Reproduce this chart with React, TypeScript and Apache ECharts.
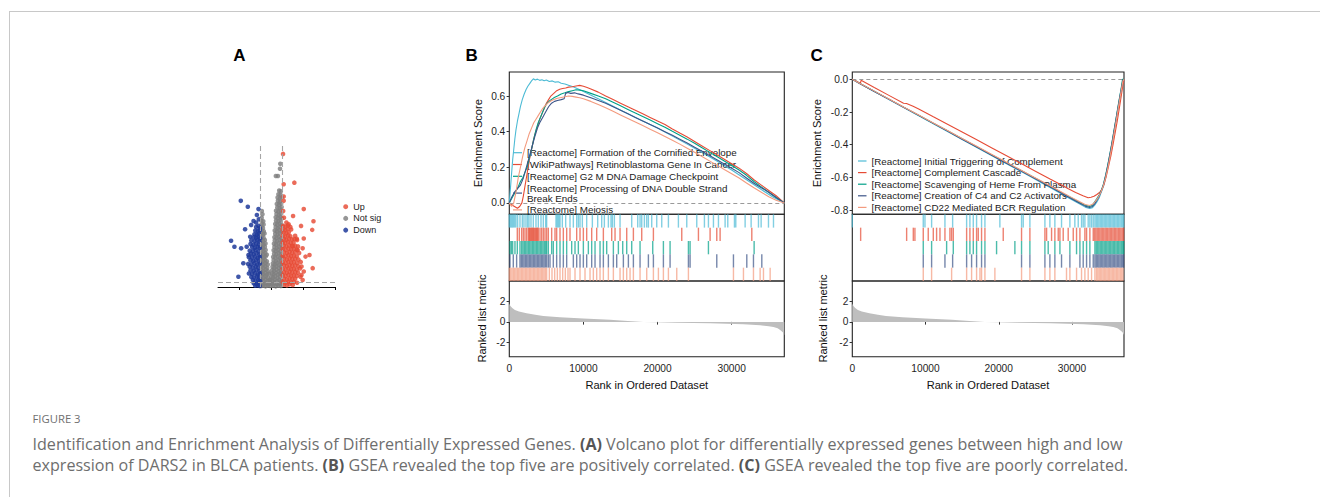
import React, { useEffect, useRef } from "react";
import * as echarts from "echarts";

const FONT = "'Liberation Sans', Arial, Helvetica, sans-serif";
const CAPTION_FONT = "'Open Sans', Lato, sans-serif";
const NPG = ["#4DBBD5", "#E64B35", "#00A087", "#3C5488", "#F39B7F"];

// ---------------- Panel A: volcano ----------------
const VOLCANO_X_TICKS = [-2, 0, 2, 4];
const LOGFC_CUTOFF = 0.68;
const P_CUTOFF = 1.3;
const volcanoDown: number[][] = [
  [-0.95, 18.2], [-0.8, 18.5], [-0.72, 17.9], [-1.0, 17.1], [-0.85, 16.9], [-0.72, 17.2],
  [-1.05, 16.0], [-0.9, 15.8], [-0.78, 16.2], [-1.1, 15.1], [-0.95, 14.9], [-0.8, 15.2], [-0.7, 14.8],
  [-1.25, 14.1], [-1.05, 13.9], [-0.88, 14.2], [-0.74, 13.8], [-1.3, 13.0], [-1.12, 12.8], [-0.95, 13.1], [-0.78, 12.9],
  [-1.2, 12.1], [-1.02, 11.9], [-0.85, 12.2], [-0.72, 11.8], [-1.35, 11.0], [-1.15, 10.9], [-0.98, 11.2], [-0.8, 10.8],
  [-1.28, 10.1], [-1.1, 9.9], [-0.92, 10.2], [-0.75, 9.8], [-1.4, 9.0], [-1.2, 8.9], [-1.02, 9.2], [-0.85, 8.8], [-0.72, 9.1],
  [-1.3, 8.1], [-1.12, 7.9], [-0.95, 8.2], [-0.78, 7.8], [-1.45, 7.0], [-1.25, 6.9], [-1.05, 7.2], [-0.88, 6.8], [-0.72, 7.1],
  [-1.35, 6.1], [-1.15, 5.9], [-0.98, 6.2], [-0.8, 5.8], [-1.3, 5.0], [-1.1, 4.9], [-0.92, 5.2], [-0.75, 4.8],
  [-1.4, 4.1], [-1.2, 3.9], [-1.02, 4.2], [-0.85, 3.8], [-0.72, 4.1], [-1.25, 3.0], [-1.08, 2.9], [-0.9, 3.2], [-0.76, 2.8],
  [-1.15, 2.1], [-0.98, 1.9], [-0.82, 2.2], [-0.7, 1.8], [-1.1, 1.1], [-0.92, 0.9], [-0.78, 1.2], [-1.0, 0.4], [-0.85, 0.5], [-0.72, 0.3],
  [-1.91, 26.1], [-1.47, 24.3], [-0.8, 23.6], [-0.9, 21.8], [-1.11, 20.0], [-1.64, 17.5], [-2.52, 14.0], [-2.31, 12.2],
  [-1.89, 11.7], [-1.54, 12.2], [-1.75, 7.2], [-2.06, 3.1], [-1.32, 15.2], [-1.43, 9.7], [-1.26, 18.8], [-0.95, 19.5], [-0.78, 20.5],
];
const volcanoUp: number[][] = [
  [0.75, 18.5], [0.9, 18.3], [1.05, 18.6], [1.2, 18.2], [0.72, 17.5], [0.88, 17.3], [1.02, 17.6], [1.25, 17.4],
  [0.78, 16.5], [0.95, 16.3], [1.1, 16.6], [0.72, 15.5], [0.88, 15.3], [1.05, 15.6], [1.2, 15.4], [1.5, 15.5],
  [0.8, 14.5], [0.95, 14.3], [1.12, 14.6], [1.3, 14.4], [1.6, 14.6], [0.72, 13.5], [0.88, 13.3], [1.05, 13.6], [1.22, 13.4], [1.4, 13.5],
  [0.78, 12.5], [0.95, 12.3], [1.12, 12.6], [1.3, 12.4], [1.5, 12.5], [1.68, 12.3], [0.72, 11.5], [0.9, 11.3], [1.08, 11.6], [1.25, 11.4], [1.42, 11.5], [1.6, 11.3],
  [0.8, 10.5], [0.98, 10.3], [1.15, 10.6], [1.32, 10.4], [1.5, 10.5], [1.75, 10.3], [0.72, 9.5], [0.9, 9.3], [1.08, 9.6], [1.25, 9.4], [1.42, 9.5], [1.6, 9.3],
  [0.8, 8.5], [0.98, 8.3], [1.15, 8.6], [1.32, 8.4], [1.5, 8.5], [1.7, 8.3], [0.72, 7.5], [0.9, 7.3], [1.08, 7.6], [1.25, 7.4], [1.42, 7.5], [1.62, 7.3], [1.85, 7.6],
  [0.8, 6.5], [0.98, 6.3], [1.15, 6.6], [1.32, 6.4], [1.5, 6.5], [1.7, 6.3], [0.72, 5.5], [0.9, 5.3], [1.08, 5.6], [1.25, 5.4], [1.42, 5.5], [1.6, 5.3], [1.8, 5.6],
  [0.8, 4.5], [0.98, 4.3], [1.15, 4.6], [1.32, 4.4], [1.5, 4.5], [1.68, 4.3], [0.72, 3.5], [0.9, 3.3], [1.08, 3.6], [1.25, 3.4], [1.42, 3.5], [1.6, 3.3], [1.9, 3.6],
  [0.8, 2.5], [0.98, 2.3], [1.15, 2.6], [1.32, 2.4], [1.5, 2.5], [0.72, 1.5], [0.9, 1.3], [1.08, 1.6], [1.25, 1.4], [1.42, 1.5], [1.62, 1.3],
  [0.8, 0.7], [0.98, 0.5], [1.15, 0.8], [1.35, 0.6],
  [0.74, 40.3], [0.78, 31.1], [1.45, 31.6], [0.78, 27.4], [0.78, 26.1], [2.04, 23.6], [1.37, 21.5], [2.65, 19.9], [1.87, 18.5],
  [2.57, 17.3], [1.09, 19.0], [0.95, 19.5], [2.04, 14.7], [1.62, 14.2], [1.45, 14.5], [1.35, 12.4], [1.97, 11.7], [1.66, 11.2],
  [2.4, 9.7], [2.15, 9.2], [2.6, 5.7], [2.04, 4.7], [1.9, 6.2], [1.83, 3.1], [1.97, 2.1], [0.75, 23.0], [0.8, 21.0],
];
const volcanoNotSig: number[][] = [
  [0.57, 37.3], [0.55, 35.8], [0.42, 33.6], [0.29, 33.6], [0.5, 29.2], [0.6, 29.0], [0.45, 28.1], [0.58, 27.9],
  [0.4, 27.1], [0.55, 26.9], [0.66, 27.2], [0.42, 26.1], [0.55, 25.9], [0.35, 25.1], [0.48, 24.9], [0.62, 25.2],
  [0.38, 24.1], [0.52, 23.9], [0.65, 24.2], [0.3, 23.1], [0.45, 22.9], [0.58, 23.2], [0.33, 22.1], [0.48, 21.9], [0.62, 22.2],
  [0.28, 21.1], [0.42, 20.9], [0.56, 21.2], [0.67, 20.8], [0.3, 20.1], [0.45, 19.9], [0.6, 20.2],
  [0.25, 19.1], [0.38, 18.9], [0.52, 19.2], [0.65, 18.8], [0.28, 18.1], [0.42, 17.9], [0.56, 18.2],
  [0.22, 17.1], [0.35, 16.9], [0.5, 17.2], [0.64, 16.8], [0.25, 16.1], [0.4, 15.9], [0.55, 16.2],
  [0.2, 15.1], [0.33, 14.9], [0.47, 15.2], [0.62, 14.8], [0.22, 14.1], [0.37, 13.9], [0.52, 14.2], [0.66, 13.8],
  [0.17, 13.1], [0.3, 12.9], [0.45, 13.2], [0.6, 12.8], [0.2, 12.1], [0.35, 11.9], [0.5, 12.2], [0.64, 11.8],
  [0.15, 11.1], [0.28, 10.9], [0.42, 11.2], [0.57, 10.8], [0.18, 10.1], [0.32, 9.9], [0.47, 10.2], [0.62, 9.8],
  [0.12, 9.1], [0.25, 8.9], [0.4, 9.2], [0.55, 8.8], [0.67, 9.1], [0.15, 8.1], [0.3, 7.9], [0.45, 8.2], [0.6, 7.8],
  [0.1, 7.1], [0.22, 6.9], [0.36, 7.2], [0.5, 6.8], [0.64, 7.1], [0.08, 6.1], [0.2, 5.9], [0.33, 6.2], [0.48, 5.8], [0.62, 6.1],
  [0.05, 5.1], [0.18, 4.9], [0.32, 5.2], [0.46, 4.8], [0.6, 5.1], [0.03, 4.1], [0.15, 3.9], [0.28, 4.2], [0.42, 3.8], [0.56, 4.1], [0.67, 3.9],
  [0.0, 3.1], [0.12, 2.9], [0.25, 3.2], [0.4, 2.8], [0.55, 3.1], [-0.05, 2.1], [0.08, 1.9], [0.22, 2.2], [0.36, 1.8], [0.5, 2.1], [0.64, 1.9],
  [-0.1, 1.1], [0.05, 0.9], [0.2, 1.2], [0.35, 0.8], [0.5, 1.1], [0.65, 0.9], [-0.05, 0.3], [0.1, 0.4], [0.28, 0.2], [0.45, 0.4], [0.6, 0.3],
  [-0.59, 23.0], [-0.55, 22.0], [-0.6, 21.0], [-0.62, 20.1], [-0.5, 19.9], [-0.6, 19.1], [-0.48, 18.9], [-0.63, 18.1], [-0.52, 17.9],
  [-0.6, 17.1], [-0.47, 16.9], [-0.64, 16.1], [-0.52, 15.9], [-0.42, 16.2], [-0.6, 15.1], [-0.48, 14.9],
  [-0.63, 14.1], [-0.52, 13.9], [-0.4, 14.2], [-0.6, 13.1], [-0.48, 12.9], [-0.36, 13.2], [-0.64, 12.1], [-0.52, 11.9], [-0.4, 12.2],
  [-0.6, 11.1], [-0.48, 10.9], [-0.35, 11.2], [-0.63, 10.1], [-0.5, 9.9], [-0.38, 10.2], [-0.28, 9.8], [-0.6, 9.1], [-0.47, 8.9], [-0.35, 9.2],
  [-0.64, 8.1], [-0.52, 7.9], [-0.4, 8.2], [-0.28, 7.8], [-0.6, 7.1], [-0.48, 6.9], [-0.35, 7.2], [-0.22, 6.8],
  [-0.63, 6.1], [-0.5, 5.9], [-0.38, 6.2], [-0.25, 5.8], [-0.6, 5.1], [-0.47, 4.9], [-0.33, 5.2], [-0.2, 4.8],
  [-0.64, 4.1], [-0.52, 3.9], [-0.4, 4.2], [-0.27, 3.8], [-0.15, 4.1], [-0.6, 3.1], [-0.47, 2.9], [-0.34, 3.2], [-0.2, 2.8],
  [-0.63, 2.1], [-0.5, 1.9], [-0.37, 2.2], [-0.24, 1.8], [-0.12, 2.1], [-0.6, 1.1], [-0.47, 0.9], [-0.33, 1.2], [-0.2, 0.8],
  [-0.64, 0.3], [-0.5, 0.4], [-0.36, 0.2], [-0.22, 0.4],
];

// ---------------- Panels B & C: GSEA ----------------
const RANK_MAX = 37100;
const RANK_TICKS = [0, 10000, 20000, 30000];
const ES_TICKS_B = [0, 0.2, 0.4, 0.6];
const ES_TICKS_C = [0, -0.2, -0.4, -0.6, -0.8];
const METRIC_TICKS = [-2, 0, 2];

const PATHWAYS_B = [
  "[Reactome] Formation of the Cornified Envelope",
  "[WikiPathways] Retinoblastoma Gene In Cancer",
  "[Reactome] G2 M DNA Damage Checkpoint",
  "[Reactome] Processing of DNA Double Strand\nBreak Ends",
  "[Reactome] Meiosis",
];
const PATHWAYS_C = [
  "[Reactome] Initial Triggering of Complement",
  "[Reactome] Complement Cascade",
  "[Reactome] Scavenging of Heme From Plasma",
  "[Reactome] Creation of C4 and C2 Activators",
  "[Reactome] CD22 Mediated BCR Regulation",
];

const esB_cornified = [[0,0],[150,0.08],[300,0.16],[450,0.24],[600,0.3],[750,0.36],[900,0.41],[1100,0.46],[1300,0.5],[1500,0.54],[1750,0.58],[2000,0.61],[2250,0.635],[2500,0.655],[2750,0.67],[3000,0.685],[3250,0.697],[3500,0.69],[3800,0.695],[4100,0.688],[4400,0.692],[4700,0.686],[5000,0.69],[5400,0.682],[5800,0.685],[6200,0.678],[6600,0.68],[7000,0.672],[7500,0.668],[8000,0.66],[8600,0.652],[9300,0.64],[10000,0.626],[12000,0.585],[14000,0.543],[16000,0.5],[18000,0.46],[20000,0.42],[22000,0.375],[24000,0.33],[26000,0.283],[28000,0.235],[30000,0.185],[32000,0.13],[34000,0.075],[35500,0.035],[36400,0.015],[37100,0]];
const esB_retino = [[0,0],[300,-0.01],[700,-0.02],[1100,-0.03],[1400,-0.02],[1700,0.0],[1900,0.04],[2100,0.09],[2300,0.14],[2500,0.19],[2700,0.24],[2900,0.28],[3100,0.32],[3300,0.36],[3500,0.39],[3800,0.43],[4100,0.47],[4400,0.5],[4700,0.53],[5000,0.56],[5300,0.58],[5600,0.6],[6000,0.615],[6400,0.63],[6800,0.638],[7200,0.642],[7600,0.645],[8000,0.65],[8500,0.652],[9000,0.656],[9500,0.66],[10000,0.655],[10500,0.648],[11000,0.64],[12000,0.622],[13000,0.6],[14000,0.58],[15000,0.56],[16000,0.54],[17000,0.52],[18000,0.5],[19000,0.48],[20000,0.46],[21000,0.44],[22000,0.415],[23000,0.392],[24000,0.37],[25000,0.345],[26000,0.32],[27000,0.295],[28000,0.27],[29000,0.245],[30000,0.22],[31000,0.195],[32000,0.165],[33000,0.13],[34000,0.1],[35000,0.07],[36000,0.04],[37100,0]];
const esB_g2m = [[0,0],[400,0.03],[800,0.06],[1200,0.09],[1500,0.12],[1800,0.14],[2100,0.17],[2400,0.2],[2700,0.25],[3000,0.3],[3300,0.36],[3600,0.41],[3900,0.45],[4200,0.48],[4500,0.51],[4800,0.54],[5100,0.56],[5500,0.575],[6000,0.59],[6500,0.6],[7000,0.612],[7500,0.618],[8000,0.625],[8500,0.63],[9000,0.635],[9500,0.633],[10000,0.63],[11000,0.615],[12000,0.6],[13000,0.585],[14000,0.565],[15000,0.545],[16000,0.525],[17000,0.505],[18000,0.485],[19000,0.465],[20000,0.445],[21000,0.425],[22000,0.402],[23000,0.38],[24000,0.358],[25000,0.335],[26000,0.31],[27000,0.285],[28000,0.26],[29000,0.235],[30000,0.21],[31000,0.185],[32000,0.155],[33000,0.12],[34000,0.09],[35000,0.06],[36000,0.03],[37100,0]];
const esB_dsb = [[0,0],[300,0.03],[700,0.06],[1100,0.08],[1500,0.1],[1900,0.14],[2300,0.2],[2700,0.26],[3100,0.32],[3500,0.38],[3800,0.42],[4100,0.45],[4500,0.48],[4900,0.51],[5300,0.54],[5700,0.56],[6100,0.57],[6500,0.575],[7000,0.58],[7400,0.585],[7600,0.615],[7900,0.62],[8300,0.615],[8800,0.618],[9300,0.612],[10000,0.605],[11000,0.59],[12000,0.575],[13000,0.56],[14000,0.54],[15000,0.52],[16000,0.5],[17000,0.48],[18000,0.46],[19000,0.44],[20000,0.42],[21000,0.4],[22000,0.38],[23000,0.358],[24000,0.336],[25000,0.313],[26000,0.29],[27000,0.266],[28000,0.242],[29000,0.218],[30000,0.194],[31000,0.17],[32000,0.14],[33000,0.11],[34000,0.085],[35000,0.06],[36000,0.03],[37100,0]];
const esB_meiosis = [[0,0],[300,-0.02],[600,0.0],[900,0.06],[1200,0.14],[1500,0.2],[1800,0.26],[2100,0.31],[2400,0.35],[2700,0.39],[3000,0.42],[3300,0.45],[3600,0.47],[3900,0.49],[4200,0.51],[4500,0.53],[4800,0.545],[5200,0.56],[5600,0.572],[6000,0.58],[6500,0.588],[7000,0.592],[7500,0.596],[8000,0.6],[8500,0.598],[9000,0.594],[9500,0.59],[10000,0.585],[11000,0.57],[12000,0.552],[13000,0.534],[14000,0.514],[15000,0.494],[16000,0.474],[17000,0.454],[18000,0.434],[19000,0.414],[20000,0.394],[21000,0.373],[22000,0.352],[23000,0.33],[24000,0.307],[25000,0.284],[26000,0.26],[27000,0.236],[28000,0.212],[29000,0.188],[30000,0.164],[31000,0.14],[32000,0.112],[33000,0.085],[34000,0.06],[35000,0.035],[36000,0.015],[37100,0]];

const esC_initial = [[0,0],[1000,-0.025],[3000,-0.074],[5000,-0.123],[7000,-0.172],[9000,-0.221],[11000,-0.27],[13000,-0.319],[15000,-0.368],[17000,-0.417],[19000,-0.466],[21000,-0.515],[23000,-0.563],[24500,-0.6],[26000,-0.637],[27500,-0.674],[29000,-0.713],[30000,-0.737],[31000,-0.762],[31800,-0.782],[32400,-0.79],[32800,-0.785],[33100,-0.77],[33400,-0.75],[33700,-0.726],[34000,-0.69],[34300,-0.655],[34600,-0.6],[34900,-0.535],[35200,-0.465],[35500,-0.39],[35800,-0.31],[36100,-0.235],[36400,-0.155],[36700,-0.075],[36950,-0.01],[37100,0]];
const esC_cascade = [[0,0],[600,-0.012],[1100,-0.025],[1200,-0.006],[3000,-0.05],[5000,-0.098],[7000,-0.146],[7400,-0.148],[8300,-0.165],[9000,-0.18],[11000,-0.228],[13000,-0.275],[15000,-0.322],[17000,-0.37],[19000,-0.418],[21000,-0.466],[23000,-0.514],[25000,-0.562],[27000,-0.61],[28500,-0.645],[29500,-0.67],[30500,-0.692],[31500,-0.713],[32200,-0.725],[32600,-0.722],[33000,-0.716],[33400,-0.705],[33800,-0.69],[34100,-0.672],[34400,-0.64],[34700,-0.59],[35000,-0.53],[35300,-0.47],[35600,-0.4],[35900,-0.325],[36200,-0.25],[36500,-0.165],[36800,-0.08],[37000,-0.02],[37100,0]];
const esC_heme = [[0,0],[1000,-0.024],[3000,-0.073],[5000,-0.121],[7000,-0.17],[9000,-0.218],[11000,-0.267],[13000,-0.315],[15000,-0.364],[17000,-0.412],[19000,-0.461],[21000,-0.509],[23000,-0.557],[24500,-0.593],[26000,-0.63],[27500,-0.666],[29000,-0.704],[30000,-0.727],[31000,-0.752],[31800,-0.77],[32400,-0.778],[32800,-0.77],[33100,-0.75],[33400,-0.73],[33700,-0.708],[34000,-0.68],[34300,-0.64],[34600,-0.585],[34900,-0.52],[35200,-0.45],[35500,-0.375],[35800,-0.295],[36100,-0.215],[36400,-0.135],[36700,-0.06],[36900,0.0],[37100,0]];
const esC_c4c2 = [[0,0],[1000,-0.025],[3000,-0.074],[5000,-0.122],[7000,-0.171],[9000,-0.219],[11000,-0.268],[13000,-0.317],[15000,-0.366],[17000,-0.414],[19000,-0.463],[21000,-0.512],[23000,-0.56],[24500,-0.597],[26000,-0.633],[27500,-0.67],[29000,-0.708],[30000,-0.732],[31000,-0.757],[31800,-0.776],[32400,-0.784],[32800,-0.778],[33100,-0.762],[33400,-0.74],[33700,-0.715],[34000,-0.685],[34300,-0.645],[34600,-0.59],[34900,-0.525],[35200,-0.455],[35500,-0.38],[35800,-0.3],[36100,-0.22],[36400,-0.14],[36700,-0.065],[36950,-0.005],[37100,0]];
const esC_cd22 = [[0,0],[1000,-0.024],[3000,-0.072],[5000,-0.12],[7000,-0.169],[9000,-0.217],[11000,-0.265],[13000,-0.313],[15000,-0.362],[17000,-0.41],[19000,-0.458],[21000,-0.506],[23000,-0.555],[24500,-0.591],[26000,-0.627],[27500,-0.663],[29000,-0.7],[30000,-0.724],[31000,-0.748],[31800,-0.766],[32400,-0.772],[32800,-0.765],[33100,-0.752],[33400,-0.735],[33700,-0.712],[34000,-0.685],[34300,-0.648],[34600,-0.6],[34900,-0.54],[35200,-0.47],[35500,-0.395],[35800,-0.315],[36100,-0.235],[36400,-0.155],[36700,-0.075],[36950,-0.01],[37100,0]];

const rugB_cornified = [0,150,300,450,600,750,900,1125,1440,1755,1980,2250,2475,2655,2925,3240,3600,3915,4275,4590,4905,5040,6300,6435,6570,6705,6840,7155,7605,8190,8640,9090,9315,9540,9855,10440,11205,11925,12465,12825,13365,13725,13905,14175,14940,16515,17325,17640,17865,18225,18540,18765,19215,19890,20565,21465,22815,23940,25290,26325,26865,27540,28215,29115,29475,30375,30555,31815,32625,33615,33975,34965,35640];
const rugB_retino = [1080,1350,1665,1890,2115,2340,2565,2700,2790,2900,3015,3130,3240,3350,3465,3580,3690,3800,3915,4140,4365,4590,4815,5040,5265,5715,6165,6390,6840,7290,7740,8190,9090,9540,9990,10440,11115,11790,12690,13815,14265,14940,15840,16740,17865,19440,23265,25515,27090,27990,28440,32715];
const rugB_g2m = [90,270,450,765,1080,1440,1665,1845,2025,2205,2385,2565,2745,2925,3105,3285,3465,3645,3825,4005,4185,4365,4545,4725,4905,5040,5265,5715,5940,6390,6840,7290,7740,8415,8865,9315,9990,10665,11115,11565,12240,12690,13140,14040,14715,15300,15840,16515,17640,19350,20790,21690,24165,24390,26865,33030];
const rugB_dsb = [90,540,990,1440,1620,1800,1980,2160,2340,2520,2700,2880,3060,3240,3420,3600,3780,3960,4140,4320,4500,4680,4860,5040,5265,5490,5940,6390,6840,7290,7740,8640,9090,9540,9990,10440,11115,11565,12240,12690,13365,14040,14490,15390,16065,16740,17640,18765,19440,20790,21690,24165,24390,27990,30240,32040,32940,34065];
const rugB_meiosis = [0,180,360,540,720,900,1080,1260,1440,1620,1800,1980,2160,2340,2520,2700,2880,3060,3240,3420,3600,3780,3960,4140,4320,4500,4680,4860,5040,5400,5760,6120,6480,6840,7200,7560,7920,8190,8865,9540,10215,10890,11340,11790,12240,12690,13365,14040,14940,15390,15840,16290,16740,17640,18540,19440,20115,20790,21465,22590,24165,30240,31590,32940,33840,34290,35190];

const rugC_initial = [0,9690,9920,10830,12650,13700,15610,16060,16520,16970,17650,18110,20150,23110,23340,24250,26300,26980,27660,28570,29710,30390,30850,31300,31530,31760,32210,32440,32670,32900,33130,33310,33490,33670,33850,34030,34210,34390,34570,34750,34930,35110,35290,35470,35650,35830,36010,36190,36370,36550,36730,36910,37050];
const rugC_cascade = [1140,7420,8330,8550,9690,10370,11060,11510,11970,12650,13330,13560,13790,15610,16060,16520,16970,17200,17650,18110,20610,23110,24250,26300,26530,27210,27660,28120,28350,28800,29480,30170,30620,31080,31760,31990,32440,32900,33080,33260,33440,33620,33800,33980,34160,34340,34520,34700,34880,35060,35240,35420,35600,35780,35960,36140,36320,36500,36680,36860,37040];
const rugC_heme = [9690,10830,12880,13790,15610,16060,16520,16970,17650,18110,19700,22200,23110,24250,26300,26750,27660,28350,29710,30620,31080,31530,31990,32440,33130,33310,33490,33670,33850,34030,34210,34390,34570,34750,34930,35110,35290,35470,35650,35830,36010,36190,36370,36550,36730,36910,37050];
const rugC_c4c2 = [9690,10830,12650,13700,15610,16290,16970,17650,18110,23110,24250,26300,26980,27660,28570,29710,31080,31530,31990,32440,32900,33130,33310,33490,33670,33850,34030,34210,34390,34570,34750,34930,35110,35290,35470,35650,35830,36010,36190,36370,36550,36730,36910,37050];
const rugC_cd22 = [9690,10830,13560,15610,16290,16970,17430,17650,18110,19470,23110,24250,26300,26980,27660,29250,29710,30620,31300,31760,32210,32670,33130,33350,33530,33710,33890,34070,34250,34430,34610,34790,34970,35150,35330,35510,35690,35870,36050,36230,36410,36590,36770,36950];

const metricRank = [0, 150, 400, 765, 1300, 2340, 3500, 4590, 6840, 9990, 13590, 16000, 18090, 20000, 22590, 27090, 31590, 33840, 35000, 35640, 36200, 36540, 36900, 37100];
const metricValue = [1.8, 1.55, 1.35, 1.17, 1.03, 0.85, 0.7, 0.59, 0.46, 0.33, 0.2, 0.1, 0.0, -0.04, -0.07, -0.13, -0.23, -0.33, -0.42, -0.5, -0.62, -0.78, -1.0, -1.27];

const CAPTION_TITLE = "FIGURE 3";
const CAPTION_1 = "Identification and Enrichment Analysis of Differentially Expressed Genes. {b|(A)} Volcano plot for differentially expressed genes between high and low";
const CAPTION_2 = "expression of DARS2 in BLCA patients. {b|(B)} GSEA revealed the top five are positively correlated. {b|(C)} GSEA revealed the top five are poorly correlated.";

// layout
const B_LEFT = 509.3, B_W = 275;
const C_LEFT = 852.3, C_W = 271.7;
const ES_TOP = 72, ES_H = 142.3, RUG_TOP = 214.3, RUG_H = 66.7, MET_TOP = 281, MET_H = 75.7;

function buildOption() {
  const gridBox = (left: number, top: number, width: number, height: number) => ({
    left, top, width, height, show: true, borderColor: "#222", borderWidth: 1.1, backgroundColor: "transparent", containLabel: false,
  });
  const grids = [
    { left: 218, top: 145, width: 117, height: 142, show: false },
    gridBox(B_LEFT, ES_TOP, B_W, ES_H),
    gridBox(B_LEFT, RUG_TOP, B_W, RUG_H),
    gridBox(B_LEFT, MET_TOP, B_W, MET_H),
    gridBox(C_LEFT, ES_TOP, C_W, ES_H),
    gridBox(C_LEFT, RUG_TOP, C_W, RUG_H),
    gridBox(C_LEFT, MET_TOP, C_W, MET_H),
  ];
  const labelStyle = { fontSize: 10.2, color: "#1e1e1e", fontFamily: FONT, margin: 4 };
  const tickStyle = { length: 2.7, lineStyle: { color: "#333", width: 1 } };
  const hiddenRankX = (gi: number) => ({ type: "value", gridIndex: gi, min: 0, max: RANK_MAX, show: false });
  const metricX = (gi: number) => ({
    type: "value", gridIndex: gi, min: 0, max: RANK_MAX,
    axisLine: { show: false }, splitLine: { show: false },
    axisTick: { show: true, customValues: RANK_TICKS, ...tickStyle },
    axisLabel: { ...labelStyle, customValues: RANK_TICKS, margin: 7, formatter: (v: number) => String(v) },
  });
  const esY = (gi: number, min: number, max: number, ticks: number[]) => ({
    type: "value", gridIndex: gi, min, max,
    axisLine: { show: false }, splitLine: { show: false },
    axisTick: { show: true, customValues: ticks, ...tickStyle },
    axisLabel: { ...labelStyle, customValues: ticks, formatter: (v: number) => v.toFixed(1) },
  });
  const rugY = (gi: number) => ({ type: "value", gridIndex: gi, min: 0, max: 5, inverse: true, show: false });
  const metricY = (gi: number) => ({
    type: "value", gridIndex: gi, min: -3.4, max: 4,
    axisLine: { show: false }, splitLine: { show: false },
    axisTick: { show: true, customValues: METRIC_TICKS, ...tickStyle },
    axisLabel: { ...labelStyle, customValues: METRIC_TICKS, formatter: (v: number) => String(v) },
  });

  const xAxis = [
    {
      type: "value", gridIndex: 0, min: -3.34, max: 4,
      axisLine: { show: true, onZero: false, lineStyle: { color: "#000", width: 1 } },
      axisTick: { show: true, customValues: VOLCANO_X_TICKS, length: 3, lineStyle: { color: "#000" } },
      axisLabel: { show: false }, splitLine: { show: false },
    },
    hiddenRankX(1), hiddenRankX(2), metricX(3), hiddenRankX(4), hiddenRankX(5), metricX(6),
  ];
  const yAxis = [
    { type: "value", gridIndex: 0, min: 0, max: 43, show: false },
    esY(1, -0.064, 0.735, ES_TICKS_B), rugY(2), metricY(3),
    esY(4, -0.826, 0.045, ES_TICKS_C), rugY(5), metricY(6),
  ];

  const dashed = { type: [5, 3], color: "#a6a6a6", width: 1.1 };
  const series: any[] = [];
  series.push({
    type: "scatter", name: "Not sig", xAxisIndex: 0, yAxisIndex: 0, data: volcanoNotSig, symbolSize: 4.6, clip: false,
    itemStyle: { color: "#7f7f7f", opacity: 0.82 }, silent: true, z: 2,
    markLine: {
      silent: true, symbol: ["none", "none"], label: { show: false }, lineStyle: dashed,
      data: [{ xAxis: -LOGFC_CUTOFF }, { xAxis: LOGFC_CUTOFF }, { yAxis: P_CUTOFF }],
    },
  });
  series.push({
    type: "scatter", name: "Down", xAxisIndex: 0, yAxisIndex: 0, data: volcanoDown, symbolSize: 4.6, clip: false,
    itemStyle: { color: "#1E3A9A", opacity: 0.85 }, silent: true, z: 3,
  });
  series.push({
    type: "scatter", name: "Up", xAxisIndex: 0, yAxisIndex: 0, data: volcanoUp, symbolSize: 4.6, clip: false,
    itemStyle: { color: "#E64B35", opacity: 0.82 }, silent: true, z: 3,
  });

  const addPanel = (
    esGi: number, names: string[], esData: number[][][], rugs: number[][], tag: string
  ) => {
    names.forEach((n, i) => {
      series.push({
        type: "line", name: n, xAxisIndex: esGi, yAxisIndex: esGi, data: esData[i],
        showSymbol: false, symbol: "none", silent: true, z: 3 + i,
        lineStyle: { color: NPG[i], width: 1.1 }, itemStyle: { color: NPG[i] },
        markLine: i === 0 ? {
          silent: true, symbol: ["none", "none"], label: { show: false },
          lineStyle: { type: [4, 3], color: "#9a9a9a", width: 1 }, data: [{ yAxis: 0 }],
        } : undefined,
      });
      series.push({
        type: "scatter", name: `${tag}-hits-${i}`, xAxisIndex: esGi + 1, yAxisIndex: esGi + 1,
        data: rugs[i].map((r) => [r, i + 0.5]), symbol: "rect", symbolSize: [1.4, 13.3], silent: true,
        itemStyle: { color: NPG[i], opacity: 0.7 },
      });
    });
    series.push({
      type: "line", name: `${tag}-metric`, xAxisIndex: esGi + 2, yAxisIndex: esGi + 2,
      data: metricRank.map((r, k) => [r, metricValue[k]]), showSymbol: false, symbol: "none", silent: true,
      lineStyle: { width: 0, opacity: 0 }, areaStyle: { color: "#BEBEBE", opacity: 1 },
    });
  };
  addPanel(1, PATHWAYS_B, [esB_cornified, esB_retino, esB_g2m, esB_dsb, esB_meiosis],
    [rugB_cornified, rugB_retino, rugB_g2m, rugB_dsb, rugB_meiosis], "B");
  addPanel(4, PATHWAYS_C, [esC_initial, esC_cascade, esC_heme, esC_c4c2, esC_cd22],
    [rugC_initial, rugC_cascade, rugC_heme, rugC_c4c2, rugC_cd22], "C");

  const legendText = { fontSize: 9.8, lineHeight: 10, color: "#1a1a1a", fontFamily: FONT };
  const legend = [
    {
      data: ["Up", "Not sig", "Down"], orient: "vertical", left: 343.2, top: 202.2, icon: "circle",
      itemWidth: 5, itemHeight: 5, itemGap: 2.7, padding: 0, selectedMode: false,
      textStyle: { fontSize: 9, lineHeight: 9, color: "#1a1a1a", fontFamily: FONT },
    },
    {
      data: PATHWAYS_B, orient: "vertical", left: 513, top: 147.7, icon: "rect",
      itemWidth: 9, itemHeight: 1.2, itemGap: 1.8, padding: 0, selectedMode: false, textStyle: legendText,
    },
    {
      data: PATHWAYS_C, orient: "vertical", left: 858, top: 156, icon: "rect",
      itemWidth: 8.5, itemHeight: 1.2, itemGap: 1.6, padding: 0, selectedMode: false, textStyle: legendText,
    },
  ];

  const txt = (text: string, x: number, y: number, extra: any = {}, rotation = 0) => ({
    type: "text", x, y, rotation, silent: true,
    style: { text, fontFamily: FONT, fontSize: 11.1, fill: "#111", align: "center", verticalAlign: "middle", ...extra },
  });
  const panelLabel = { fontSize: 17, fontWeight: "bold", fill: "#000" };
  const CAP_SIZE = 16.1;
  const captionRich = { b: { fontWeight: "bold", fill: "#555", color: "#555", fontSize: CAP_SIZE, fontFamily: CAPTION_FONT } };
  const captionStyle = { fontFamily: CAPTION_FONT, fontSize: CAP_SIZE, fill: "#6e6e6e", align: "left", rich: captionRich };

  const graphic = [
    { type: "line", silent: true, shape: { x1: 9, y1: 11.5, x2: 1320, y2: 11.5 }, style: { stroke: "#c8c8c8", lineWidth: 1 } },
    { type: "line", silent: true, shape: { x1: 9.5, y1: 11.5, x2: 9.5, y2: 497 }, style: { stroke: "#c8c8c8", lineWidth: 1 } },
    txt("A", 239.3, 55, panelLabel),
    txt("B", 471.7, 55, panelLabel),
    txt("C", 816.7, 55, panelLabel),
    txt("Enrichment Score", 478, 143.2, {}, Math.PI / 2),
    txt("Ranked list metric", 481.7, 318.5, {}, Math.PI / 2),
    txt("Rank in Ordered Dataset", 646.8, 384.5),
    txt("Enrichment Score", 817.2, 143.2, {}, Math.PI / 2),
    txt("Ranked list metric", 822.8, 318.5, {}, Math.PI / 2),
    txt("Rank in Ordered Dataset", 988, 384.5),
    txt(CAPTION_TITLE, 32.5, 418.5, { fontFamily: CAPTION_FONT, fontSize: 11.3, fill: "#707070", align: "left" }),
    txt(CAPTION_1, 32.5, 443.5, captionStyle),
    txt(CAPTION_2, 32.5, 465, captionStyle),
  ];

  return {
    animation: false,
    backgroundColor: "#ffffff",
    textStyle: { fontFamily: FONT },
    grid: grids,
    xAxis,
    yAxis,
    legend,
    series,
    graphic,
  };
}

export default function App() {
  const ref = useRef<HTMLDivElement>(null);
  useEffect(() => {
    if (!ref.current) return;
    const chart = echarts.init(ref.current, null, { renderer: "svg" });
    chart.setOption(buildOption() as any);
    return () => chart.dispose();
  }, []);
  return (
    <div
      ref={ref}
      style={{ position: "fixed", left: 0, top: 0, width: 1320, height: 497, background: "#fff" }}
    />
  );
}
